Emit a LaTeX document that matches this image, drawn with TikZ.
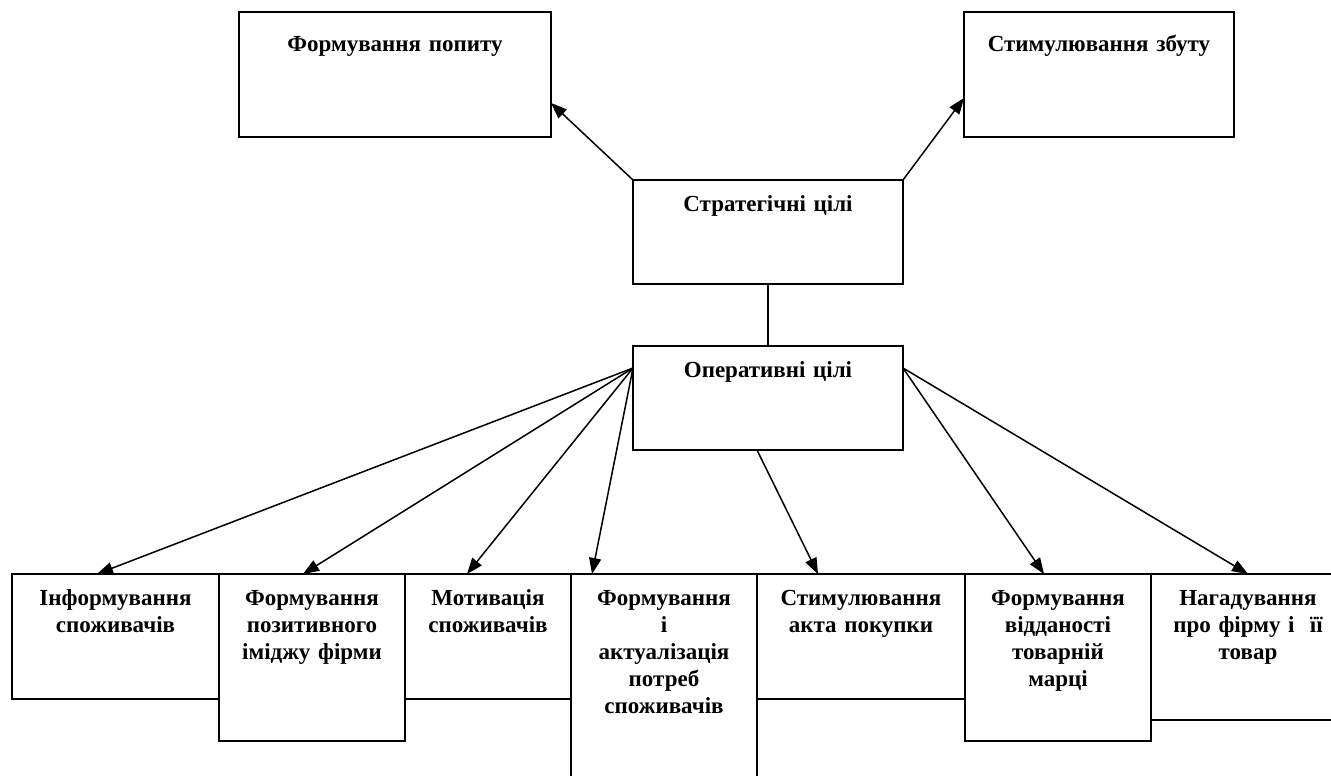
\documentclass[tikz,border=0pt]{standalone}
\usepackage{fontspec}
\setmainfont{Liberation Serif}
\usetikzlibrary{arrows.meta,positioning}

\begin{document}
\begin{tikzpicture}[
    x=1pt, y=-1pt,
    goal/.style={draw, line width=1.6pt, anchor=north west, inner xsep=0pt, inner ysep=0pt, outer sep=0pt,
        align=center, font=\fontsize{23}{27}\selectfont\bfseries, text height=31pt}, % рамка з текстом зверху
    toplevel/.style={goal, text height=40pt},
    link/.style={line width=1.5pt},
    arrow/.style={link, -{Triangle[length=16pt,width=12pt]}}
]
\useasboundingbox (0,0) rectangle (1331,776);

% верхній рівень
\node[toplevel, text width=312pt, text depth=85pt] (demand) at (239,12) {Формування попиту};
\node[toplevel, text width=270pt, text depth=85pt] (sales) at (964,12) {Стимулювання збуту};

% цілі
\node[goal, text width=270pt, text depth=73pt] (strategic) at (633,180) {Стратегічні цілі};
\node[goal, text width=270pt, text depth=73pt] (operative) at (633,346) {Оперативні цілі};

% нижній рівень
\node[goal, text width=207pt, text depth=94pt] (inform) at (12,574) {Інформування\\споживачів};
\node[goal, text width=186pt, text depth=136pt] (image) at (inform.north east) {Формування\\позитивного\\іміджу фірми};
\node[goal, text width=166pt, text depth=94pt] (motiv) at (image.north east) {Мотивація\\споживачів};
\node[goal, text width=186pt, text depth=184pt] (needs) at (motiv.north east) {Формування\\і\\актуалізація\\потреб\\споживачів};
\node[goal, text width=208pt, text depth=94pt] (purchase) at (needs.north east) {Стимулювання\\акта покупки};
\node[goal, text width=186pt, text depth=136pt] (loyal) at (purchase.north east) {Формування\\відданості\\товарній\\марці};
\node[goal, text width=194pt, text depth=115pt] (remind) at (loyal.north east) {Нагадування\\про фірму і~ її\\товар};

\coordinate (opleft) at ([yshift=-22pt]operative.north west);
\coordinate (opright) at ([yshift=-22pt]operative.north east);

\draw[arrow] (strategic.north west) -- ([yshift=-91pt]demand.north east);
\draw[arrow] (strategic.north east) -- ([yshift=-86pt]sales.north west);
\draw[link] (strategic) -- (operative);

\draw[arrow] (opleft) -- ([xshift=85pt]inform.north west);
\draw[arrow] (opleft) -- ([xshift=84pt]image.north west);
\draw[arrow] (opleft) -- ([xshift=62pt]motiv.north west);
\draw[arrow] (opleft) -- ([xshift=21pt]needs.north west);
\draw[arrow] ([xshift=124pt]operative.south west) -- ([xshift=61pt]purchase.north west);
\draw[arrow] (opright) -- ([xshift=79pt]loyal.north west);
\draw[arrow] (opright) -- ([xshift=97pt]remind.north west);
\end{tikzpicture}
\end{document}
